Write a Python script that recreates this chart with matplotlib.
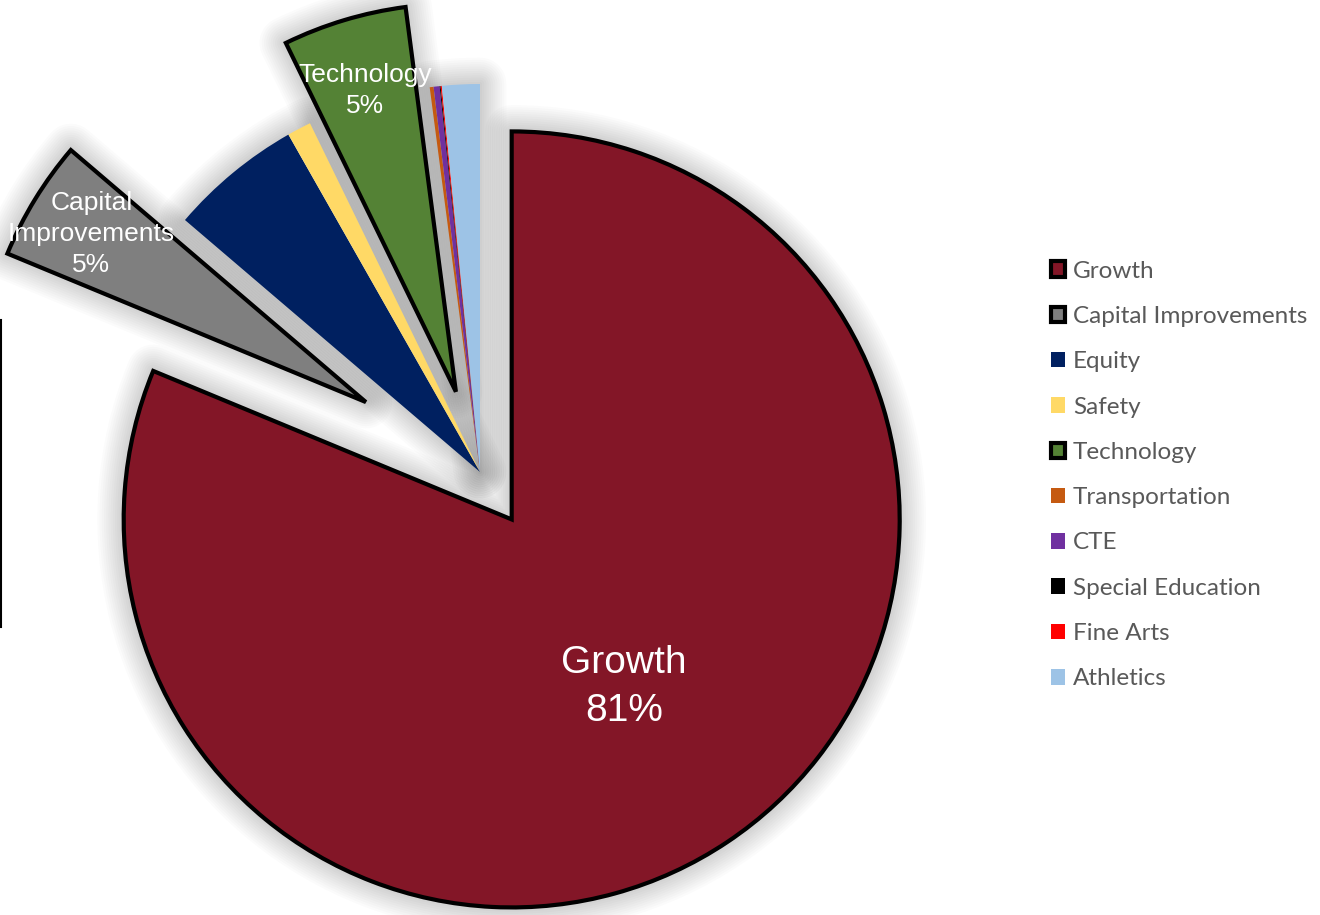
import matplotlib.pyplot as plt
from matplotlib.patches import Wedge
import numpy as np

# budget categories (clockwise from 12 o'clock)
categories = ["Growth", "Capital Improvements", "Equity", "Safety", "Technology",
              "Transportation", "CTE", "Special Education", "Fine Arts", "Athletics"]
shares = [81.25, 5.0, 5.53, 1.0, 5.15, 0.16, 0.25, 0.04, 0.05, 1.57]
colors = ["#831627", "#7f7f7f", "#002060", "#ffd966", "#548235",
          "#c55a11", "#7030a0", "#000000", "#ff0000", "#9dc3e6"]
explode = [0.147, 0.345, 0, 0, 0.216, 0, 0, 0, 0, 0]
outlined = [True, True, False, False, True, False, False, False, False, False]
# which slices get a data label and how far out it sits
label_dist = {"Growth": 0.52, "Capital Improvements": 0.83, "Technology": 0.81}
label_text = {"Growth": "Growth", "Capital Improvements": "Capital\nImprovements",
              "Technology": "Technology"}

W, H = 1320, 915
cx, cy, R = 480, 472, 388  # pie centre and radius in pixels

fig = plt.figure(figsize=(W / 100, H / 100), dpi=100)
ax = fig.add_axes([0, 0, 1, 1])

wedges, _ = ax.pie(shares, colors=colors, explode=explode, startangle=90,
                   counterclock=False, radius=1, center=(0, 0),
                   wedgeprops=dict(linewidth=0))
for w, o in zip(wedges, outlined):
    if o:
        w.set_edgecolor("black")
        w.set_linewidth(3)
    w.set_zorder(2)

# soft shadow behind the slices: neighbouring slices that share a centre
# are merged first so the shadow does not pile up at the tip
groups = []
for w in wedges:
    if groups and np.allclose(groups[-1][0], w.center) and \
            np.isclose(groups[-1][1], w.theta2):
        groups[-1][1] = w.theta1
    else:
        groups.append([w.center, w.theta1, w.theta2])
for c, t1, t2 in groups:
    for lw in np.linspace(3, 38, 12):
        ax.add_patch(Wedge(c, 1, t1, t2, facecolor="none", edgecolor="black",
                           lw=lw, alpha=0.014, joinstyle="round", zorder=0))

# data labels
total = sum(shares)
for w, name, v in zip(wedges, categories, shares):
    if name not in label_dist:
        continue
    tm = np.deg2rad((w.theta1 + w.theta2) / 2)
    d = label_dist[name]
    x = w.center[0] + d * w.r * np.cos(tm)
    y = w.center[1] + d * w.r * np.sin(tm)
    big = name == "Growth"
    ax.text(x, y, f"{label_text[name]}\n{v / total * 100:.0f}%", ha="center",
            va="center", color="white", fontsize=28 if big else 19,
            family="Liberation Sans", linespacing=1.42 if big else 1.38,
            zorder=5)

ax.set_xlim(-cx / R, (W - cx) / R)
ax.set_ylim(-(H - cy) / R, cy / R)
ax.set_aspect("equal")
ax.axis("off")

leg = fig.legend(wedges, categories, loc="center left",
                 bbox_to_anchor=(1029 / W, 1 - 475 / H), frameon=False,
                 prop=dict(family="Lato", size=17.5), labelcolor="#595959",
                 handlelength=0.6, handleheight=0.6, handletextpad=0.3,
                 labelspacing=1.0)

# stray border line at the left edge
fig.add_artist(plt.Line2D([1 / W, 1 / W], [1 - 320 / H, 1 - 627 / H],
                          color="black", lw=1.5, transform=fig.transFigure))

fig.savefig("out.png", dpi=100)
